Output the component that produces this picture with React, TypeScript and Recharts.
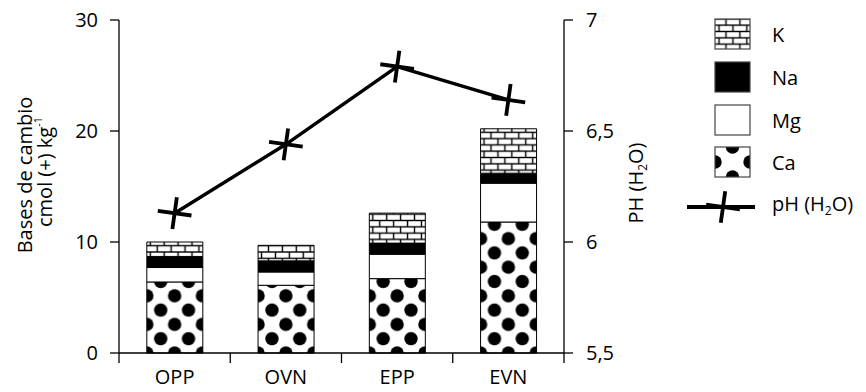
import React from 'react';
import { ComposedChart, Bar, Line, XAxis, YAxis } from 'recharts';

// valores
const categories = ['OPP', 'OVN', 'EPP', 'EVN'];
const caValues = [6.4, 6.1, 6.7, 11.8];
const mgValues = [1.3, 1.2, 2.2, 3.5];
const naValues = [1.0, 1.0, 1.0, 0.9];
const kValues = [1.3, 1.4, 2.7, 4.0];
const phValues = [6.13, 6.44, 6.79, 6.64];
const leftTicks = [0, 10, 20, 30];
const rightTicks = [5.5, 6, 6.5, 7];

const data = categories.map((name, i) => ({
  name,
  Ca: caValues[i],
  Mg: mgValues[i],
  Na: naValues[i],
  K: kValues[i],
  ph: phValues[i],
}));

if (typeof document !== 'undefined') document.body.style.margin = '0';

const FONT = '"Open Sans", "Noto Sans", sans-serif';
const FS = 20;
const INK = '#000';
const TICK_SIZE = 10;
const TICK_MARGIN = 3;
const BAND = 445 / 4;
const DOT_W = BAND / 4;
const DOT_H = 28.6;
const BRICK_W = BAND / 8;
const BRICK_H = 12.6;

function Patterns() {
  return (
    <svg width={0} height={0} style={{ position: 'absolute' }}>
      <defs>
        <pattern id="caPat" patternUnits="userSpaceOnUse" x={119 + BAND / 4} y={353} width={DOT_W} height={DOT_H}>
          <rect width={DOT_W} height={DOT_H} fill="#fff" />
          <circle cx={0} cy={0} r={6.7} fill="#000" />
          <circle cx={DOT_W} cy={0} r={6.7} fill="#000" />
          <circle cx={0} cy={DOT_H} r={6.7} fill="#000" />
          <circle cx={DOT_W} cy={DOT_H} r={6.7} fill="#000" />
          <circle cx={DOT_W / 2} cy={DOT_H / 2} r={6.7} fill="#000" />
        </pattern>
        <pattern id="caLeg" patternUnits="userSpaceOnUse" x={35} y={147} width={35} height={30}>
          <rect width={35} height={30} fill="#fff" />
          <circle cx={0} cy={15} r={6.7} fill="#000" />
          <circle cx={35} cy={15} r={6.7} fill="#000" />
          <circle cx={17.5} cy={0} r={6.7} fill="#000" />
          <circle cx={17.5} cy={30} r={6.7} fill="#000" />
        </pattern>
        <pattern id="kPat" patternUnits="userSpaceOnUse" x={119 + BAND / 4} y={0} width={BRICK_W} height={BRICK_H}>
          <rect width={BRICK_W} height={BRICK_H} fill="#fff" />
          <g stroke="#000" strokeWidth={1.4}>
            <line x1={0} x2={BRICK_W} y1={0} y2={0} />
            <line x1={0} x2={BRICK_W} y1={BRICK_H / 2} y2={BRICK_H / 2} />
            <line x1={0} x2={BRICK_W} y1={BRICK_H} y2={BRICK_H} />
            <line x1={BRICK_W / 4} x2={BRICK_W / 4} y1={0} y2={BRICK_H / 2} />
            <line x1={(BRICK_W * 3) / 4} x2={(BRICK_W * 3) / 4} y1={BRICK_H / 2} y2={BRICK_H} />
          </g>
        </pattern>
      </defs>
    </svg>
  );
}

function CatTick(props: any) {
  const { x, y, payload, index } = props;
  const half = payload?.offset ?? BAND / 2;
  const axisY = y - TICK_SIZE - TICK_MARGIN;
  return (
    <g>
      <line x1={x - half} x2={x - half} y1={axisY} y2={axisY + TICK_SIZE} stroke="#000" strokeWidth={1.3} />
      {index === categories.length - 1 && (
        <line x1={x + half} x2={x + half} y1={axisY} y2={axisY + TICK_SIZE} stroke="#000" strokeWidth={1.3} />
      )}
      <text x={x} y={axisY + 31} textAnchor="middle" fontSize={FS} fontFamily={FONT} fill={INK}>
        {payload.value}
      </text>
    </g>
  );
}

function Cross({ cx, cy, size = 17 }: { cx: number; cy: number; size?: number }) {
  return (
    <g transform={`translate(${cx},${cy}) rotate(8)`} stroke="#000" strokeWidth={3.8}>
      <line x1={-size} x2={size} y1={0} y2={0} />
      <line x1={0} x2={0} y1={-size + 1} y2={size - 1} />
    </g>
  );
}

function PhDot(props: any) {
  if (props.cx == null || props.cy == null) return null;
  return <Cross cx={props.cx} cy={props.cy} />;
}

function LeftLabel() {
  return (
    <g fontFamily={FONT} fontSize={FS} fill={INK}>
      <text transform="translate(32,175) rotate(-90)" textAnchor="middle">
        Bases de cambio
      </text>
      <text transform="translate(52,172) rotate(-90)" textAnchor="middle">
        cmol (+) kg
        <tspan fontSize={11} dy={-10}>-1</tspan>
      </text>
    </g>
  );
}

function RightLabel() {
  return (
    <text transform="translate(643,183) rotate(-90)" textAnchor="middle" fontFamily={FONT} fontSize={FS} fill={INK}>
      PH (H<tspan fontSize={12} dy={4}>2</tspan>
      <tspan dy={-4}>O)</tspan>
    </text>
  );
}

function LegendBox() {
  const rows = [
    { label: 'K', fill: 'url(#kPat)', y: 19 },
    { label: 'Na', fill: '#000', y: 62 },
    { label: 'Mg', fill: '#fff', y: 105 },
    { label: 'Ca', fill: 'url(#caLeg)', y: 147 },
  ];
  return (
    <svg width={186} height={230} style={{ position: 'absolute', left: 680, top: 0 }}>
      {rows.map((r) => (
        <g key={r.label}>
          <rect x={35} y={r.y} width={35} height={30} fill={r.fill} stroke="#444" strokeWidth={1.2} />
          <text x={92} y={r.y + 23} fontFamily={FONT} fontSize={FS} fill={INK}>
            {r.label}
          </text>
        </g>
      ))}
      <line x1={7} x2={75} y1={207} y2={207} stroke="#000" strokeWidth={3.8} />
      <Cross cx={43} cy={207} />
      <text x={92} y={211} fontFamily={FONT} fontSize={FS} fill={INK}>
        pH (H<tspan fontSize={12} dy={4}>2</tspan>
        <tspan dy={-4}>O)</tspan>
      </text>
    </svg>
  );
}

export default function App() {
  return (
    <div style={{ position: 'relative', width: 866, height: 392, background: '#fff' }}>
      <Patterns />
      <ComposedChart
        width={866}
        height={392}
        data={data}
        margin={{ top: 20, right: 212, bottom: 0, left: 0 }}
        barCategoryGap="25%"
      >
        <XAxis
          dataKey="name"
          height={39}
          axisLine={{ stroke: '#000', strokeWidth: 1.3 }}
          tickLine={false}
          tickSize={TICK_SIZE}
          tickMargin={TICK_MARGIN}
          tick={<CatTick />}
          interval={0}
        />
        <YAxis
          yAxisId="left"
          width={119}
          domain={[0, 30]}
          ticks={leftTicks}
          tickSize={9}
          tickMargin={12}
          axisLine={{ stroke: '#000', strokeWidth: 1.3 }}
          tickLine={{ stroke: '#000', strokeWidth: 1.3 }}
          tick={{ fill: INK, fontSize: FS, fontFamily: FONT }}
          label={<LeftLabel />}
        />
        <YAxis
          yAxisId="right"
          orientation="right"
          width={90}
          domain={[5.5, 7]}
          ticks={rightTicks}
          tickSize={9}
          tickMargin={13}
          axisLine={{ stroke: '#000', strokeWidth: 1.3 }}
          tickLine={{ stroke: '#000', strokeWidth: 1.3 }}
          tick={{ fill: INK, fontSize: FS, fontFamily: FONT, textAnchor: 'start' }}
          tickFormatter={(v: number) => String(v).replace('.', ',')}
          label={<RightLabel />}
        />
        <Bar yAxisId="left" dataKey="Ca" stackId="s" fill="url(#caPat)" stroke="#000" strokeWidth={1} isAnimationActive={false} />
        <Bar yAxisId="left" dataKey="Mg" stackId="s" fill="#fff" stroke="#000" strokeWidth={1} isAnimationActive={false} />
        <Bar yAxisId="left" dataKey="Na" stackId="s" fill="#000" stroke="#000" strokeWidth={1} isAnimationActive={false} />
        <Bar yAxisId="left" dataKey="K" stackId="s" fill="url(#kPat)" stroke="#000" strokeWidth={1} isAnimationActive={false} />
        <Line
          yAxisId="right"
          dataKey="ph"
          stroke="#000"
          strokeWidth={3.5}
          dot={<PhDot />}
          activeDot={false}
          isAnimationActive={false}
        />
      </ComposedChart>
      <LegendBox />
    </div>
  );
}
